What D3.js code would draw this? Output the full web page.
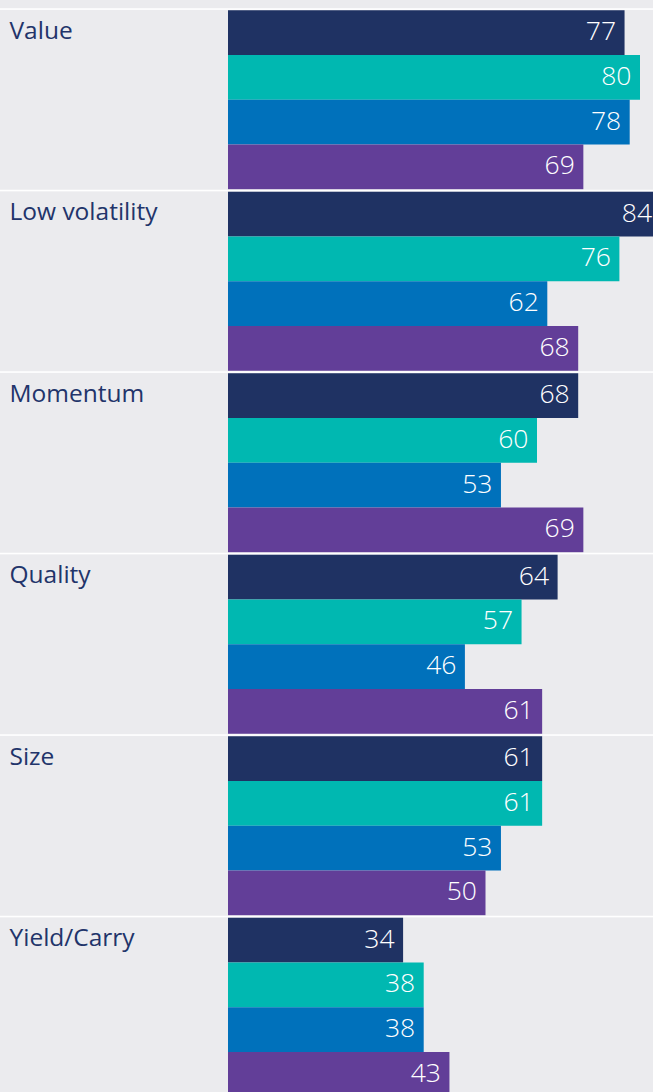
<!DOCTYPE html>
<html>
<head>
<meta charset="utf-8">
<script src="https://cdn.jsdelivr.net/npm/d3@7"></script>
<style>
  html, body { margin: 0; padding: 0; background: #ebebee; }
  svg { display: block; }
</style>
</head>
<body>
<div id="chart"></div>
<script>
const categories = ["Value", "Low volatility", "Momentum", "Quality", "Size", "Yield/Carry"];
const seriesNames = ["Series 1", "Series 2", "Series 3", "Series 4"];
const series1 = [77, 84, 68, 64, 61, 34];
const series2 = [80, 76, 60, 57, 61, 38];
const series3 = [78, 62, 53, 46, 53, 38];
const series4 = [69, 68, 69, 61, 50, 43];
const seriesColors = ["#1f3263", "#00b8b1", "#0071bb", "#623e98"];

const allSeries = [series1, series2, series3, series4];
const W = 653, H = 1092;
const svg = d3.select("#chart").append("svg").attr("width", W).attr("height", H);
svg.append("rect").attr("width", W).attr("height", H).attr("fill", "#ebebee");

const x = d3.scaleLinear().domain([0, 100]).range([228, 743]);
const pitch = 181.5;
const y0 = d3.scaleBand().domain(categories).range([8.25, 8.25 + pitch * categories.length]).padding(0);
const y1 = d3.scaleBand().domain(seriesNames).range([2, 181]).padding(0);

const groups = svg.selectAll("g.grp").data(categories).join("g")
  .attr("class", "grp")
  .attr("transform", d => `translate(0,${y0(d)})`);

groups.append("rect")
  .attr("x", 0).attr("y", 0).attr("width", W).attr("height", 1.6)
  .attr("fill", "#ffffff");

groups.append("text")
  .attr("x", 9.5).attr("y", 30.5)
  .attr("fill", "#22346a")
  .attr("font-family", "'Open Sans', sans-serif")
  .attr("font-size", 24.5)
  .text(d => d);

groups.each(function(cat, ci) {
  const g = d3.select(this);
  const rows = seriesNames.map((s, si) => ({ s, si, v: allSeries[si][ci] }));
  g.selectAll("rect.bar").data(rows).join("rect")
    .attr("class", "bar")
    .attr("x", x(0))
    .attr("y", d => y1(d.s))
    .attr("width", d => x(d.v) - x(0))
    .attr("height", y1.bandwidth())
    .attr("fill", d => seriesColors[d.si]);
  g.selectAll("text.val").data(rows).join("text")
    .attr("class", "val")
    .attr("x", d => x(d.v) - 8.5)
    .attr("y", d => y1(d.s) + y1.bandwidth() / 2 + 7.5)
    .attr("text-anchor", "end")
    .attr("fill", "#ffffff")
    .attr("font-family", "'Open Sans', sans-serif")
    .attr("font-weight", 300)
    .attr("font-size", 26.5)
    .text(d => d.v);
});
</script>
</body>
</html>
